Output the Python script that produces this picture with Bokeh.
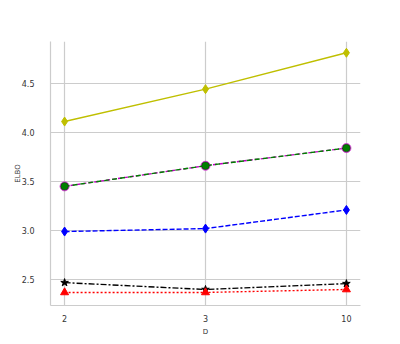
from bokeh.plotting import figure
from bokeh.models import FixedTicker, Range1d
from bokeh.embed import file_html
from bokeh.resources import INLINE

D = ["2", "3", "10"]
yellow_vals = [4.11, 4.44, 4.81]
magenta_vals = [3.45, 3.66, 3.84]
green_vals = [3.45, 3.66, 3.84]
blue_vals = [2.99, 3.02, 3.21]
black_vals = [2.47, 2.40, 2.46]
red_vals = [2.37, 2.37, 2.40]

xs = list(range(len(D)))

p = figure(width=384, height=338, output_backend="svg", toolbar_location=None,
           x_range=Range1d(-0.1, 2.1), y_range=Range1d(2.237, 4.925),
           min_border_left=50, min_border_right=24, min_border_top=41, min_border_bottom=32)
p.outline_line_color = None
p.background_fill_color = "white"
p.border_fill_color = "white"

p.xaxis.ticker = FixedTicker(ticks=xs)
p.xaxis.major_label_overrides = {i: d for i, d in enumerate(D)}
p.yaxis.ticker = FixedTicker(ticks=[2.5, 3.0, 3.5, 4.0, 4.5])
p.yaxis.major_label_overrides = {2.5: "2.5", 3.0: "3.0", 3.5: "3.5", 4.0: "4.0", 4.5: "4.5"}

for ax in (p.xaxis, p.yaxis):
    ax.axis_line_color = "#cccccc"
    ax.axis_line_width = 1.2
    ax.major_tick_line_color = None
    ax.minor_tick_line_color = None
    ax.major_label_text_font = "DejaVu Sans"
    ax.major_label_text_font_size = "8px"
    ax.major_label_text_color = "#333333"
    ax.axis_label_text_font = "DejaVu Sans"
    ax.axis_label_text_font_size = "7px"
    ax.axis_label_text_font_style = "normal"
    ax.axis_label_text_color = "#333333"
p.xaxis.major_label_standoff = 3
p.xaxis.axis_label_standoff = 3
p.yaxis.major_label_standoff = 10
p.yaxis.axis_label_standoff = -3
p.xaxis.axis_label = "D"
p.yaxis.axis_label = "ELBO"
p.xgrid.grid_line_color = "#cccccc"
p.ygrid.grid_line_color = "#cccccc"
p.xgrid.grid_line_width = 1.2
p.ygrid.grid_line_width = 1.2

lw = 1.4
p.line(xs, yellow_vals, line_color="#bfbf00", line_width=lw)
p.scatter(xs, yellow_vals, marker="diamond", size=9, color="#bfbf00")

p.line(xs, magenta_vals, line_color="#bf00bf", line_width=lw, line_dash="4 2")
p.scatter(xs, magenta_vals, marker="circle", size=9, color="#d040d0")
p.line(xs, green_vals, line_color="#008000", line_width=lw, line_dash="5 3")
p.scatter(xs, green_vals, marker="circle", size=7.5, fill_color="#008000", line_color="#1a3a1a", line_width=0.6)

p.line(xs, blue_vals, line_color="#0000ff", line_width=lw, line_dash="5 2")
p.scatter(xs, blue_vals, marker="diamond", size=9, color="#0000ff")

p.line(xs, black_vals, line_color="black", line_width=lw, line_dash="6 2 2 2")
p.scatter(xs, black_vals, marker="star", size=8, color="black")

p.line(xs, red_vals, line_color="#ff0000", line_width=lw, line_dash="2 2")
p.scatter(xs, red_vals, marker="triangle", size=8, color="#ff0000")

open("out.html", "w").write(file_html(p, INLINE))
